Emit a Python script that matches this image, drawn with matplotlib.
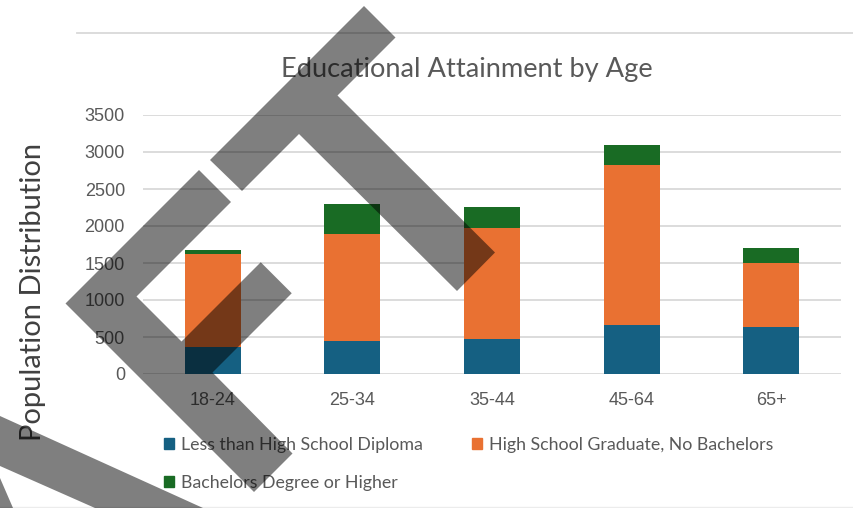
import matplotlib.pyplot as plt
from matplotlib.patches import Patch, Polygon
from matplotlib.lines import Line2D
import numpy as np

# --------------------------------Dados----------------------------------
faixas = ["18-24", "25-34", "35-44", "45-64", "65+"]
sem_diploma = [365, 450, 477, 662, 635]
ensino_medio = [1257, 1442, 1500, 2162, 861]
superior = [54, 405, 284, 266, 211]

series = ["Less than High School Diploma",
          "High School Graduate, No Bachelors",
          "Bachelors Degree or Higher"]
cores = ["#156082", "#E97132", "#196B24"]
yticks = [0, 500, 1000, 1500, 2000, 2500, 3000, 3500]

# formas cinzas sobrepostas (pixels, origem no canto superior esquerdo)
forma1 = [(364, 6), (395.5, 37.5), (337.5, 95.5), (495, 252.5), (457, 291),
          (299, 134), (242, 191), (210, 160)]
forma2 = [(199, 170), (231, 202), (136.5, 296.5), (181.5, 341.5),
          (260.75, 262.25), (291.75, 293.25), (212.5, 372.5),
          (292.5, 453.5), (254, 492), (65.5, 303.5)]
forma3 = [(0, 416), (203, 508), (95, 508), (0, 466)]
forma4 = [(0, 478), (0, 508), (13, 508)]

W, H = 854, 508
fig = plt.figure(figsize=(W/100, H/100), dpi=100)
ax = fig.add_axes([143/W, 1 - 374/H, 698/W, 259/H])

x = np.arange(len(faixas))
base = np.zeros(len(faixas))
for vals, cor in zip([sem_diploma, ensino_medio, superior], cores):
    ax.bar(x, vals, 0.4, bottom=base, color=cor, zorder=3)
    base = base + np.array(vals)

ax.set_xlim(-0.5, 4.5)
ax.set_ylim(0, 3500)
ax.set_yticks(yticks)
ax.set_xticks(x)
ax.set_xticklabels(faixas)
ax.grid(axis="y", color="#d9d9d9", lw=1.3, zorder=0)
for s in ax.spines.values():
    s.set_visible(False)
ax.tick_params(length=0, colors="#595959", labelsize=13)
ax.tick_params(axis="y", pad=13)
ax.tick_params(axis="x", pad=13)
for t in ax.get_xticklabels() + ax.get_yticklabels():
    t.set_fontfamily("Liberation Sans")

fig.text(467/W, 1 - 70/H, "Educational Attainment by Age", ha="center",
         va="center", fontsize=19.6, color="#595959", family="Lato")
fig.text(33/W, 1 - 292/H, "Population Distribution", rotation=90,
         ha="center", va="center", fontsize=21, color="#404040",
         family="Lato")

# legenda: ordem para preencher por linha
handles = [Patch(color=cores[0], label=series[0]),
           Patch(color=cores[2], label=series[2]),
           Patch(color=cores[1], label=series[1])]
fig.legend(handles=handles, ncol=2, loc="upper left",
           bbox_to_anchor=(148/W, 1 - 421/H), frameon=False,
           prop={"family": "Lato", "size": 12.8}, labelcolor="#595959",
           handlelength=0.57, handleheight=0.57, handletextpad=0.4,
           columnspacing=2.75, labelspacing=1.22)

# linhas da area do grafico
fig.add_artist(Line2D([77/W, 1], [1 - 33/H, 1 - 33/H], color="#d9d9d9", lw=1.3))
fig.add_artist(Line2D([0, 1], [1 - 507/H, 1 - 507/H], color="#ececec", lw=1.0))

for forma in [forma1, forma2, forma3, forma4]:
    pts = [(px/W, 1 - py/H) for px, py in forma]
    fig.add_artist(Polygon(pts, closed=True, transform=fig.transFigure,
                           facecolor="black", alpha=0.5, edgecolor="none",
                           zorder=10))

fig.savefig("out.png", dpi=100)
